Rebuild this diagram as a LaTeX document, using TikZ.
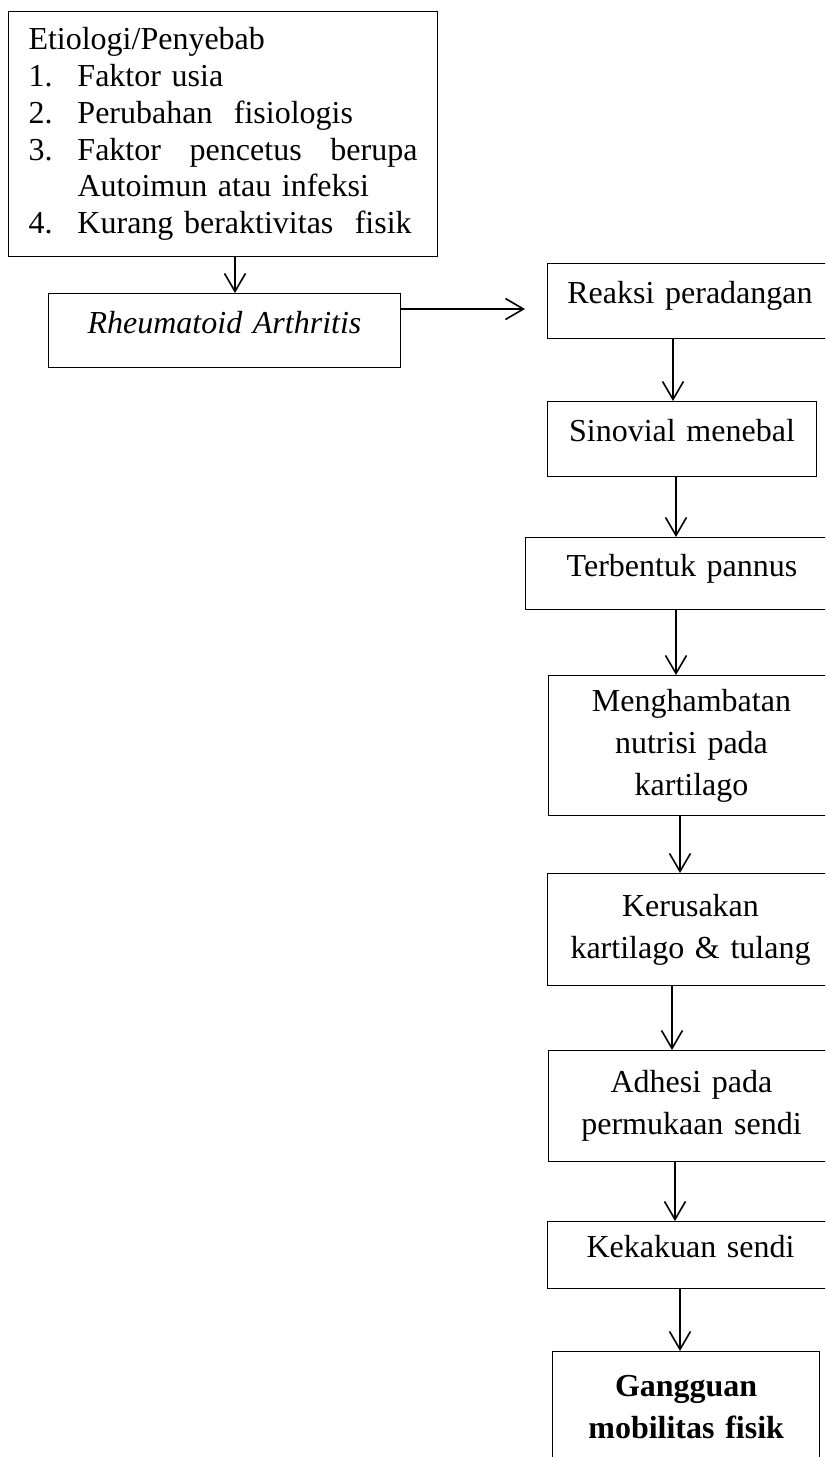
\documentclass[tikz,border=0pt]{standalone}
\usepackage{fontspec}
\setmainfont{Liberation Serif}
\usetikzlibrary{arrows.meta}

\begin{document}
\begin{tikzpicture}[x=1pt,y=-1pt,
  box/.style={draw,line width=1pt,anchor=north west,inner ysep=0pt,inner xsep=5pt,align=center,font=\fontsize{32}{42}\selectfont},
  onebox/.style={box,text height=22pt,text depth=17pt},
  arr/.style={line width=1.6pt,-{Straight Barb[length=18pt,width=21pt,line width=1.6pt]}}]
\useasboundingbox (0,0) rectangle (825,1457);
\clip (0,0) rectangle (825,1457);
\node[box,align=left,inner xsep=20pt,text width=389pt,minimum height=245pt,font=\fontsize{32}{36.7}\selectfont] (etiologi) at (8,11)
  {Etiologi/Penyebab\\
   \makebox[49pt][l]{1.}Faktor usia\\
   \makebox[49pt][l]{2.}Perubahan\ \ fisiologis\\
   \makebox[49pt][l]{3.}\makebox[340pt][s]{Faktor\hfill pencetus\hfill berupa}\\
   \hspace*{49pt}Autoimun atau infeksi\\
   \makebox[49pt][l]{4.}Kurang beraktivitas\ \ fisik};
\node[onebox,text width=342pt,minimum height=74pt] (ra) at (48,293) {\itshape Rheumatoid Arthritis};
\node[onebox,text width=275pt,minimum height=75pt] (reaksi) at (547,263) {Reaksi peradangan};
\node[onebox,text width=259pt,minimum height=75pt] (sinovial) at (547,401) {Sinovial menebal};
\node[onebox,text width=303pt,minimum height=72pt] (pannus) at (525,537) {Terbentuk pannus};
\node[box,text width=276pt,minimum height=140pt] (hambat) at (548,675) {Menghambatan\\nutrisi pada\\kartilago};
\node[box,text width=276pt,minimum height=112pt] (rusak) at (547,873) {Kerusakan\\kartilago \& tulang};
\node[box,text width=276pt,minimum height=111pt] (adhesi) at (548,1050) {Adhesi pada\\permukaan sendi};
\node[onebox,text width=276pt,minimum height=67pt] (kaku) at (547,1221) {Kekakuan sendi};
\node[box,line width=1.3pt,text width=257pt,minimum height=110pt,font=\fontsize{32}{42}\selectfont\bfseries] (gangguan) at (552,1351) {Gangguan\\mobilitas fisik};
\coordinate (tip) at (525,309);
\draw[arr] (etiologi.south -| 235,0) -- (ra.north -| 235,0);
\draw[arr] (ra.east |- tip) -- (tip);
\draw[arr] (reaksi.south -| 673,0) -- (sinovial.north -| 673,0);
\draw[arr] (sinovial.south -| 676,0) -- (pannus.north -| 676,0);
\draw[arr] (pannus.south -| 676,0) -- (hambat.north -| 676,0);
\draw[arr] (hambat.south -| 680,0) -- (rusak.north -| 680,0);
\draw[arr] (rusak.south -| 672,0) -- (adhesi.north -| 672,0);
\draw[arr] (adhesi.south -| 675,0) -- (kaku.north -| 675,0);
\draw[arr] (kaku.south -| 680,0) -- (gangguan.north -| 680,0);
\end{tikzpicture}
\end{document}
